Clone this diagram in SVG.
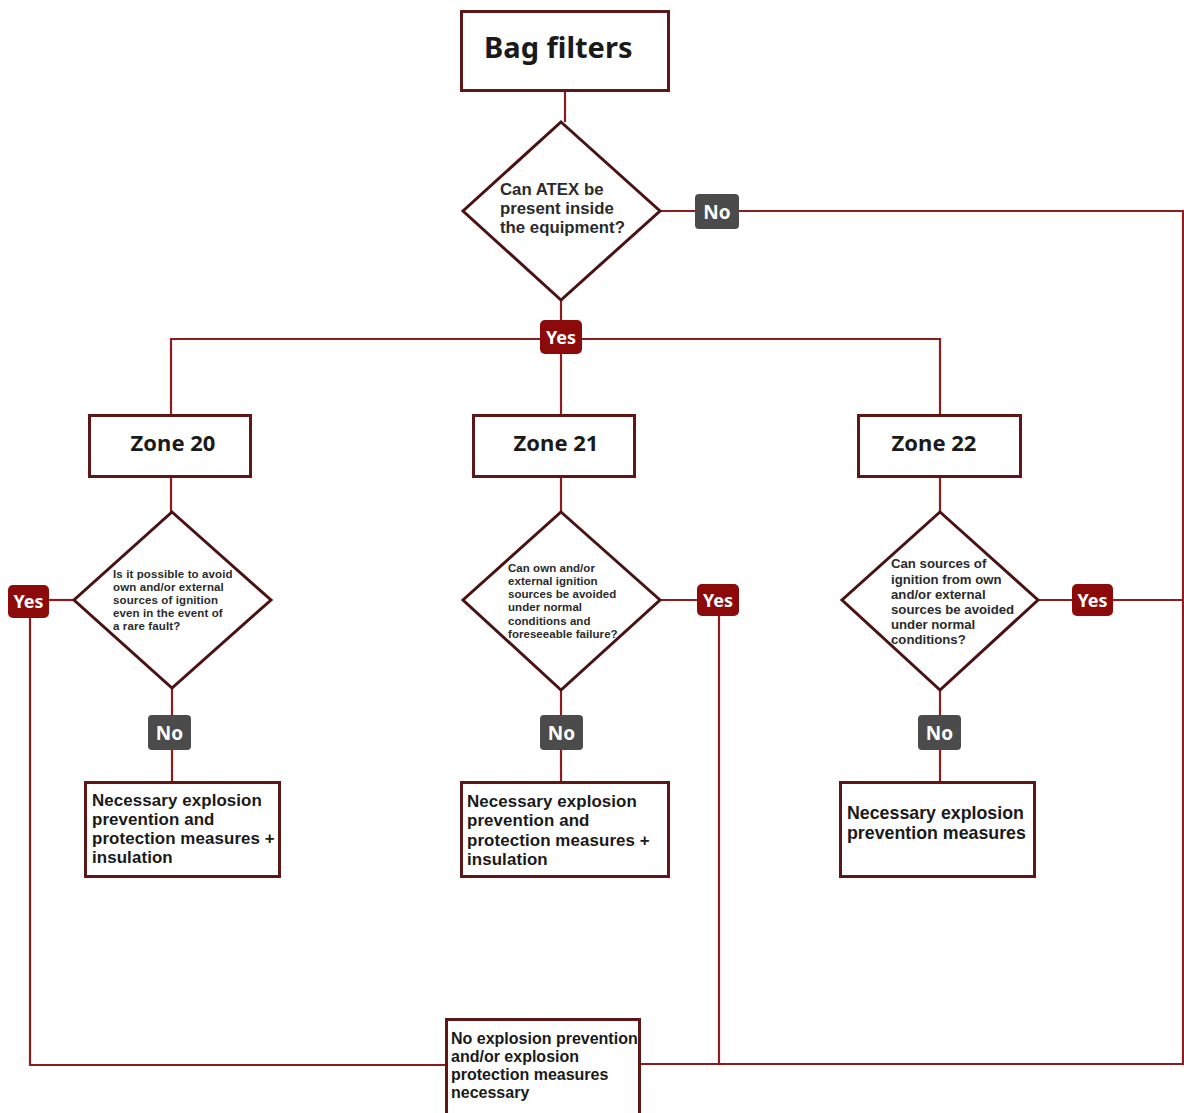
<svg xmlns="http://www.w3.org/2000/svg" width="1184" height="1113" viewBox="0 0 1184 1113">
<style>
.box{fill:#fff;stroke:#5e1616;stroke-width:3}
.dia{fill:#fff;stroke:#4a1212;stroke-width:3}
.ln{fill:none;stroke:#8e1c1c;stroke-width:2.2}
.yes{fill:#8c0a0a}
.no{fill:#4b4b4b}
.bt{font-family:"Noto Sans","Open Sans",sans-serif;font-weight:bold;fill:#fff;text-anchor:middle}
.h{font-family:"Noto Sans","Open Sans",sans-serif;font-weight:bold;fill:#1a1a1a}
.t{font-family:"Liberation Sans",Arial,sans-serif;font-weight:bold;fill:#1a1a1a}
.q{font-family:"Liberation Sans",Arial,sans-serif;font-weight:bold;fill:#2b2b2b}
</style>
<rect width="1184" height="1113" fill="#fff"/>
<g id="connectors">
<line class="ln" x1="565" y1="91" x2="565" y2="122"/>
<line class="ln" x1="660" y1="211" x2="696" y2="211"/>
<polyline class="ln" points="738,211 1183,211 1183,1064 640,1064"/>
<line class="ln" x1="561" y1="300" x2="561" y2="415"/>
<polyline class="ln" points="171,415 171,339 940,339 940,415"/>
<line class="ln" x1="171" y1="477" x2="171" y2="512"/>
<line class="ln" x1="561" y1="477" x2="561" y2="512"/>
<line class="ln" x1="940" y1="477" x2="940" y2="512"/>
<line class="ln" x1="172" y1="688" x2="172" y2="782"/>
<line class="ln" x1="561" y1="690" x2="561" y2="782"/>
<line class="ln" x1="940" y1="690" x2="940" y2="782"/>
<line class="ln" x1="49" y1="600" x2="74" y2="600"/>
<polyline class="ln" points="30,616 30,1065 446,1065"/>
<line class="ln" x1="660" y1="600" x2="698" y2="600"/>
<line class="ln" x1="719" y1="615" x2="719" y2="1064"/>
<line class="ln" x1="1038" y1="600" x2="1183" y2="600"/>
</g>
<g id="bag-filters">
<rect class="box" x="461.5" y="11.5" width="207" height="79"/>
<text class="h" x="484" y="58" font-size="29">Bag filters</text>
</g>
<g id="q-atex">
<polygon class="dia" points="561,122 660,211 561,300 463,211"/>
<text class="q" font-size="16.8"><tspan x="500" y="195">Can ATEX be</tspan><tspan x="500" y="214">present inside</tspan><tspan x="500" y="233">the equipment?</tspan></text>
</g>
<g id="no-main"><rect class="no" x="695" y="194" width="44" height="35" rx="4"/><text class="bt" x="717" y="219" font-size="19">No</text></g>
<g id="yes-main"><rect class="yes" x="540" y="320" width="42" height="34" rx="5"/><text class="bt" x="561" y="344" font-size="18">Yes</text></g>
<g id="zone20"><rect class="box" x="89.5" y="415.5" width="161" height="61"/><text class="h" x="173" y="451" font-size="22" text-anchor="middle">Zone 20</text></g>
<g id="zone21"><rect class="box" x="473.5" y="415.5" width="161" height="61"/><text class="h" x="556" y="451" font-size="22" text-anchor="middle">Zone 21</text></g>
<g id="zone22"><rect class="box" x="858.5" y="415.5" width="162" height="61"/><text class="h" x="934" y="451" font-size="22" text-anchor="middle">Zone 22</text></g>
<g id="q-zone20">
<polygon class="dia" points="172,512 271,600 172,688 74,600"/>
<text class="q" font-size="11.5" letter-spacing="0.12"><tspan x="113" y="578">Is it possible to avoid</tspan><tspan x="113" y="591">own and/or external</tspan><tspan x="113" y="604">sources of ignition</tspan><tspan x="113" y="617">even in the event of</tspan><tspan x="113" y="630">a rare fault?</tspan></text>
</g>
<g id="q-zone21">
<polygon class="dia" points="561,512 660,600 561,690 463,600"/>
<text class="q" font-size="11.5" letter-spacing="0.05"><tspan x="508" y="572">Can own and/or</tspan><tspan x="508" y="585">external ignition</tspan><tspan x="508" y="598">sources be avoided</tspan><tspan x="508" y="611">under normal</tspan><tspan x="508" y="625">conditions and</tspan><tspan x="508" y="638">foreseeable failure?</tspan></text>
</g>
<g id="q-zone22">
<polygon class="dia" points="940,512 1038,600 940,690 842,600"/>
<text class="q" font-size="13.2"><tspan x="891" y="568">Can sources of</tspan><tspan x="891" y="584">ignition from own</tspan><tspan x="891" y="599">and/or external</tspan><tspan x="891" y="614">sources be avoided</tspan><tspan x="891" y="629">under normal</tspan><tspan x="891" y="644">conditions?</tspan></text>
</g>
<g id="yes-zone20"><rect class="yes" x="8" y="585" width="41" height="33" rx="5"/><text class="bt" x="28.5" y="608" font-size="18">Yes</text></g>
<g id="yes-zone21"><rect class="yes" x="697" y="584" width="42" height="32" rx="5"/><text class="bt" x="718" y="607" font-size="18">Yes</text></g>
<g id="yes-zone22"><rect class="yes" x="1072" y="584" width="41" height="32" rx="5"/><text class="bt" x="1092.5" y="607" font-size="18">Yes</text></g>
<g id="no-zone20"><rect class="no" x="148" y="715" width="43" height="35" rx="4"/><text class="bt" x="169.5" y="740" font-size="19">No</text></g>
<g id="no-zone21"><rect class="no" x="540" y="715" width="43" height="35" rx="4"/><text class="bt" x="561.5" y="740" font-size="19">No</text></g>
<g id="no-zone22"><rect class="no" x="918" y="715" width="43" height="35" rx="4"/><text class="bt" x="939.5" y="740" font-size="19">No</text></g>
<g id="res-zone20">
<rect class="box" x="85.5" y="782.5" width="194" height="94"/>
<text class="t" font-size="16.9" letter-spacing="0.1"><tspan x="92" y="806">Necessary explosion</tspan><tspan x="92" y="825">prevention and</tspan><tspan x="92" y="844">protection measures +</tspan><tspan x="92" y="863">insulation</tspan></text>
</g>
<g id="res-zone21">
<rect class="box" x="461.5" y="782.5" width="207" height="94"/>
<text class="t" font-size="16.9" letter-spacing="0.1"><tspan x="467" y="807">Necessary explosion</tspan><tspan x="467" y="826">prevention and</tspan><tspan x="467" y="845.5">protection measures +</tspan><tspan x="467" y="865">insulation</tspan></text>
</g>
<g id="res-zone22">
<rect class="box" x="840.5" y="782.5" width="194" height="94"/>
<text class="t" font-size="17.8"><tspan x="847" y="819">Necessary explosion</tspan><tspan x="847" y="839">prevention measures</tspan></text>
</g>
<g id="res-none">
<rect class="box" x="446.5" y="1019.5" width="193" height="96"/>
<text class="t" font-size="16"><tspan x="451" y="1044">No explosion prevention</tspan><tspan x="451" y="1062">and/or explosion</tspan><tspan x="451" y="1080">protection measures</tspan><tspan x="451" y="1098">necessary</tspan></text>
</g>
</svg>
